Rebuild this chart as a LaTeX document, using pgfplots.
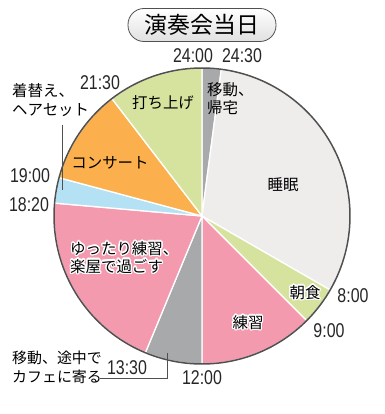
\documentclass[border=0pt]{standalone}
\usepackage{pgfplots}
\pgfplotsset{compat=1.18}
\usepackage{fontspec}
\usepackage{contour}
\contourlength{1.3pt}
\setmainfont{Noto Sans CJK JP}
\newfontfamily\numfont[FakeStretch=0.8]{Liberation Sans}
\definecolor{cgray}{HTML}{A8A9AB}
\definecolor{csleep}{HTML}{EEEDEC}
\definecolor{cgreen}{HTML}{D5E39E}
\definecolor{cpink}{HTML}{F39AAF}
\definecolor{cblue}{HTML}{B5E1F5}
\definecolor{corange}{HTML}{FBB04D}
\definecolor{cline}{HTML}{505050}
\newcommand\lab[3]{\node[font=\fontsize{15.5}{19}\selectfont,align=left,inner sep=0pt] at (axis cs:#1,#2) {#3};}
\newcommand\num[3]{\node[font=\numfont\fontsize{20}{21}\selectfont,inner sep=0pt,text=black!85] at (axis cs:#1,#2) {#3};}
\begin{document}
\begin{tikzpicture}
\begin{axis}[x=1bp,y=1bp,xmin=-202,xmax=183,ymin=-198,ymax=216,
  hide axis,clip=false,scale only axis]
\path (axis cs:-202,-198) rectangle (axis cs:183,216);
% wedges: start and end times (hours, clockwise from top)
\addplot[fill=cgray,draw=white,line width=1.3pt,domain=0:0.5,samples=8] ({148*sin(15*x)},{148*cos(15*x)}) -- (axis cs:0,0) -- cycle;
\addplot[fill=csleep,draw=white,line width=1.3pt,domain=0.5:8,samples=80] ({148*sin(15*x)},{148*cos(15*x)}) -- (axis cs:0,0) -- cycle;
\addplot[fill=cgreen,draw=white,line width=1.3pt,domain=8:9,samples=12] ({148*sin(15*x)},{148*cos(15*x)}) -- (axis cs:0,0) -- cycle;
\addplot[fill=cpink,draw=white,line width=1.3pt,domain=9:12,samples=30] ({148*sin(15*x)},{148*cos(15*x)}) -- (axis cs:0,0) -- cycle;
\addplot[fill=cgray,draw=white,line width=1.3pt,domain=12:13.5,samples=16] ({148*sin(15*x)},{148*cos(15*x)}) -- (axis cs:0,0) -- cycle;
\addplot[fill=cpink,draw=white,line width=1.3pt,domain=13.5:18.3333,samples=50] ({148*sin(15*x)},{148*cos(15*x)}) -- (axis cs:0,0) -- cycle;
\addplot[fill=cblue,draw=white,line width=1.3pt,domain=18.3333:19,samples=8] ({148*sin(15*x)},{148*cos(15*x)}) -- (axis cs:0,0) -- cycle;
\addplot[fill=corange,draw=white,line width=1.3pt,domain=19:21.5,samples=26] ({148*sin(15*x)},{148*cos(15*x)}) -- (axis cs:0,0) -- cycle;
\addplot[fill=cgreen,draw=white,line width=1.3pt,domain=21.5:24,samples=26] ({148*sin(15*x)},{148*cos(15*x)}) -- (axis cs:0,0) -- cycle;
% outer ring
\addplot[draw=cline,line width=1.5pt,domain=0:24,samples=200] ({148*sin(15*x)},{148*cos(15*x)});
% title
\node[draw=cline,line width=0.8pt,rounded corners=16bp,minimum width=148bp,minimum height=33bp,
  top color=white,bottom color=black!12,inner sep=0pt,
  font=\fontsize{23}{24}\selectfont] at (axis cs:0,191) {演奏会当日};
% time labels
\num{-9}{160}{24:00}
\num{40}{160}{24:30}
\num{-102}{133}{21:30}
\num{-172}{40}{19:00}
\num{-173}{11}{18:20}
\num{151}{-80}{8:00}
\num{127}{-115}{9:00}
\num{-75}{-152}{13:30}
\num{0}{-162}{12:00}
% category labels
\lab{-39}{113}{打ち上げ}
\lab{-92}{53}{コンサート}
\lab{81}{31}{睡眠}
\lab{103}{-77}{\contour{white}{朝食}}
\lab{46}{-107}{\contour{white}{練習}}
\node[font=\fontsize{15.5}{18}\selectfont,align=left,inner sep=0pt,anchor=west] at (axis cs:5,117) {移動、\\帰宅};
\node[font=\fontsize{15.5}{19}\selectfont,align=left,inner sep=0pt,anchor=west] at (axis cs:-190,116) {着替え、\\ヘアセット};
\node[font=\fontsize{15.5}{18}\selectfont,align=left,inner sep=0pt,anchor=west] at (axis cs:-132,-42) {\contour{white}{ゆったり練習、}\\\contour{white}{楽屋で過ごす}};
\node[font=\fontsize{15}{19}\selectfont,align=left,inner sep=0pt,anchor=west] at (axis cs:-190,-151.5) {移動、途中で\\カフェに寄る};
% leader lines
\draw[cline,line width=0.8pt] (axis cs:-140,91) -- (axis cs:-140,26);
\draw[cline,line width=0.8pt] (axis cs:-102,-162) -- (axis cs:-35,-162) -- (axis cs:-35,-137);
\end{axis}
\end{tikzpicture}
\end{document}
